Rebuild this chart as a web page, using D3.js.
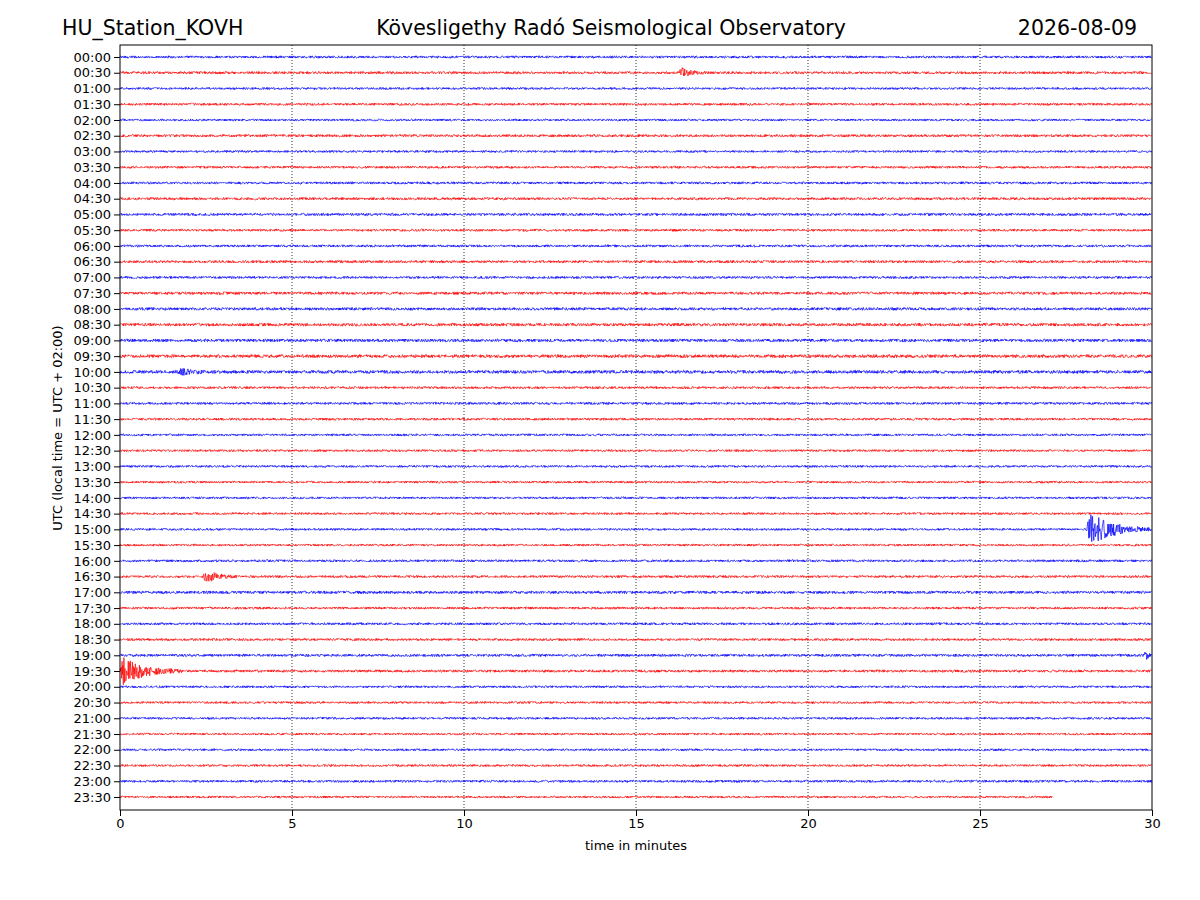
<!DOCTYPE html>
<html><head><meta charset="utf-8">
<script src="https://cdn.jsdelivr.net/npm/d3@7"></script>
<style>body{margin:0;background:#fff}</style>
</head><body><div id="chart"></div>
<script>
// row labels (UTC), 30 minutes per line
const rowLabels = d3.range(48).map(i => d3.format("02d")(Math.floor(i / 2)) + ":" + (i % 2 ? "30" : "00"));
const xTicks = [0, 5, 10, 15, 20, 25, 30];
// background noise level per row (px)
const noiseLevel = [1.2,1.3,1.1,1.2,1.1,1.3,1.1,1.2,1.2,1.3,1.3,1.2,1.2,1.3,1.2,1.4,1.4,1.5,1.5,1.6,1.6,1.2,1.2,1.2,
                    1.1,1.1,1.1,1.1,1.1,1.1,1.1,1.1,1.2,1.2,1.4,1.2,1.2,1.2,1.3,1.3,1.1,1.1,1.1,1.1,1.1,1.1,1.2,1.1];
// events: row index, start minute, end minute, peak amplitude (px)
const events = [
    {row: 1, start: 16.25, end: 17.0, amp: 6},
    {row: 20, start: 1.7, end: 2.8, amp: 3},
    {row: 30, start: 28.1, end: 30, amp: 19},
    {row: 33, start: 2.4, end: 3.4, amp: 8},
    {row: 38, start: 29.75, end: 30, amp: 9},
    {row: 39, start: 0.0, end: 1.8, amp: 15}
];
const lastRowEnd = 27.1;

const margin = {top: 45, right: 48, bottom: 90, left: 120};
const width = 1200 - margin.left - margin.right;
const height = 900 - margin.top - margin.bottom;

const svg = d3.select("#chart").append("svg")
    .attr("width", 1200).attr("height", 900)
    .style("font-family", "DejaVu Sans");
const g = svg.append("g").attr("transform", `translate(${margin.left},${margin.top})`);

const x = d3.scaleLinear().domain([0, 30]).range([0, width]);
const y = d3.scalePoint().domain(rowLabels).range([12, 752]);

// dotted grid
g.selectAll(".grid").data(xTicks.slice(1, -1)).enter().append("line")
    .attr("x1", d => x(d)).attr("x2", d => x(d)).attr("y1", 0).attr("y2", height)
    .attr("stroke", "black").attr("stroke-width", 0.8).attr("stroke-dasharray", "1,2");

// noise texture generator (seeded, texture only)
let seed = 12345;
function rnd() { seed = (seed * 1664525 + 1013904223) % 4294967296; return seed / 4294967296 - 0.5; }

const line = d3.line().x(d => x(d[0])).y(d => d[1]);
rowLabels.forEach((lab, i) => {
    const tEnd = i === 47 ? lastRowEnd : 30;
    const y0 = y(lab);
    const pts = [];
    for (let t = 0; t <= tEnd; t += 0.012) {
        let a = noiseLevel[i];
        events.filter(e => e.row === i).forEach(e => {
            if (t >= e.start && t <= e.end) {
                const rise = Math.min(1, (t - e.start) / 0.08);
                const decay = Math.exp(-(t - e.start) / ((e.end - e.start) / 3));
                a += e.amp * rise * decay;
            }
        });
        pts.push([t, y0 + rnd() * 2 * a]);
    }
    g.append("path").datum(pts).attr("d", line)
        .attr("fill", "none").attr("stroke", i % 2 ? "red" : "blue").attr("stroke-width", 0.7);
});

g.append("rect").attr("width", width).attr("height", height)
    .attr("fill", "none").attr("stroke", "black");

g.append("g").attr("transform", `translate(0,${height})`)
    .call(d3.axisBottom(x).tickValues(xTicks).tickFormat(d3.format("d")).tickSizeOuter(0))
    .call(a => a.select(".domain").remove())
    .selectAll("text").style("font-size", "13px").style("font-family", "DejaVu Sans");
g.append("g").call(d3.axisLeft(y).tickSizeOuter(0))
    .call(a => a.select(".domain").remove())
    .selectAll("text").style("font-size", "13px").style("font-family", "DejaVu Sans");

svg.append("text").attr("x", 636).attr("y", 850).attr("text-anchor", "middle")
    .style("font-size", "13px").text("time in minutes");
svg.append("text").attr("transform", "translate(62,428) rotate(-90)").attr("text-anchor", "middle")
    .style("font-size", "13px").text("UTC (local time = UTC + 02:00)");

svg.append("text").attr("x", 62).attr("y", 35).style("font-size", "20.5px").text("HU_Station_KOVH");
svg.append("text").attr("x", 611).attr("y", 35).attr("text-anchor", "middle").style("font-size", "20.5px")
    .text("Kövesligethy Radó Seismological Observatory");
svg.append("text").attr("x", 1137).attr("y", 35).attr("text-anchor", "end").style("font-size", "20.5px").text("2026-08-09");
</script></body></html>
